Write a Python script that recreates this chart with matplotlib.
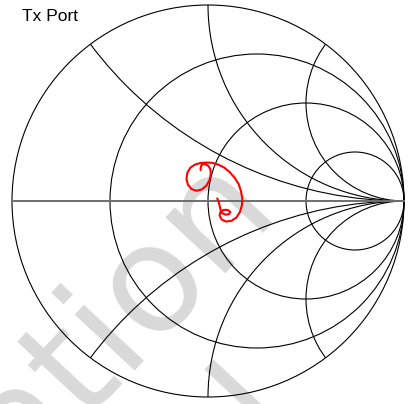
import matplotlib
matplotlib.use('Agg')
import matplotlib.pyplot as plt
from matplotlib.patches import Circle, Rectangle
import numpy as np

title = 'Tx Port'
r_vals = [1/3, 1, 3]
x_vals = [0.5, 1, 2]

# reflection coefficient
gam_re = [-0.038, -0.037, -0.033, -0.018, 0.000, 0.012, 0.014, 0.008, -0.008, -0.031,
          -0.059, -0.084, -0.102, -0.110, -0.105, -0.089, -0.066, -0.038, -0.010, 0.020,
          0.051, 0.082, 0.110, 0.135, 0.156, 0.168, 0.175, 0.173, 0.163, 0.145,
          0.120, 0.092, 0.069, 0.059, 0.064, 0.082, 0.102, 0.114, 0.107, 0.089,
          0.071, 0.063, 0.058, 0.053, 0.047]
gam_im = [0.158, 0.171, 0.184, 0.189, 0.181, 0.163, 0.138, 0.107, 0.079, 0.059,
          0.052, 0.061, 0.082, 0.112, 0.145, 0.171, 0.186, 0.194, 0.196, 0.195,
          0.186, 0.171, 0.148, 0.120, 0.087, 0.051, 0.013, -0.023, -0.056, -0.084,
          -0.101, -0.105, -0.094, -0.074, -0.054, -0.045, -0.046, -0.056, -0.067, -0.070,
          -0.061, -0.041, -0.018, 0.000, 0.013]

fig = plt.figure(figsize=(4.16, 4.04), dpi=100)
ax = fig.add_axes([0, 0, 1, 1])
ax.set_xlim(-208/196, 208/196)
ax.set_ylim(-203/196, 201/196)
ax.set_aspect('equal')
ax.axis('off')

# watermark (only its lower part shows)
clip = Rectangle((-3, -3), 6, 3 - 12/196, transform=ax.transData)
wm_font = dict(fontsize=108, color='#d9d9d9', family='DejaVu Sans',
               rotation=47, rotation_mode='anchor', ha='center', va='baseline', zorder=0)
for txt, (px, py) in [('Information', (-19, 520)), ('Confidential', (-3, 750))]:
    t = ax.text((px-208)/196, (201-py)/196, txt, **wm_font)
    t.set_clip_path(clip)

unit = Circle((0, 0), 1, fill=False, ec='black', lw=0.8, zorder=2)
ax.add_patch(unit)

for r in r_vals:
    ax.add_patch(Circle((r/(r+1), 0), 1/(r+1), fill=False, ec='black', lw=0.8, zorder=2))

for x in x_vals:
    for s in [1, -1]:
        c = Circle((1, s/x), 1/x, fill=False, ec='black', lw=0.8, zorder=2)
        ax.add_patch(c)
        c.set_clip_path(unit)

ax.plot([-1, 1], [0, 0], color='#6e6e6e', lw=1.4, zorder=2)

ax.plot(gam_re, gam_im, color='red', lw=1.5, solid_joinstyle='round',
        solid_capstyle='round', zorder=3)

fig.text(22/416, 1 - 21/404, title, fontsize=12.5, family='Liberation Sans',
         ha='left', va='baseline')

fig.savefig('out.png', dpi=100)
